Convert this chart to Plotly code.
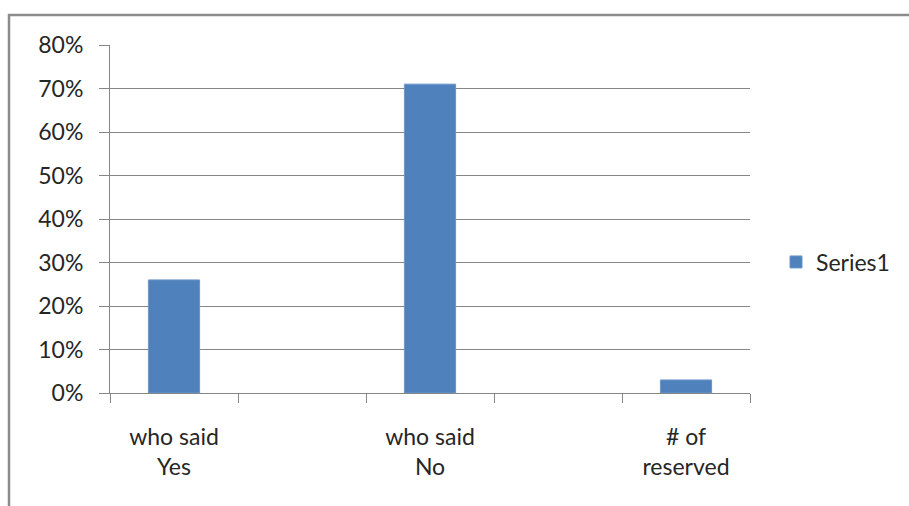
import plotly.graph_objects as go

categories = ["who said<br>Yes", "who said<br>No", "# of<br>reserved"]
positions = [0, 2, 4]
values = [0.26, 0.71, 0.03]
y_ticks = [0, 0.1, 0.2, 0.3, 0.4, 0.5, 0.6, 0.7, 0.8]
series_name = "Series1"

GRAY = "#868686"
FONT = dict(family="Lato, Calibri, sans-serif", size=23, color="#262626")

L, R, T, B = 110, 159, 45, 113
W, H = 909, 506
pw, ph = W - L - R, H - T - B

fig = go.Figure()
fig.add_trace(go.Bar(
    x=positions, y=values, name=series_name, width=0.4,
    marker=dict(color="#4f81bd", line=dict(color="#6b96ca", width=1)),
))

fig.update_layout(
    width=W, height=H,
    margin=dict(l=L, r=R, t=T, b=B),
    paper_bgcolor="white", plot_bgcolor="white",
    font=FONT,
    showlegend=True,
    legend=dict(x=(776 - L) / pw, y=(H - B - 262) / ph, xanchor="left",
                yanchor="middle", font=FONT, bgcolor="rgba(0,0,0,0)"),
    xaxis=dict(range=[-0.5, 4.5], tickmode="array", tickvals=positions,
               ticktext=categories, ticks="", ticklabelstandoff=23,
               minor=dict(tick0=-0.5, dtick=1, ticks="outside", ticklen=9,
                          tickcolor=GRAY, tickwidth=1, showgrid=False),
               showline=True, linecolor=GRAY, linewidth=1,
               showgrid=False, zeroline=False, tickfont=FONT),
    yaxis=dict(range=[0, 0.8], tickmode="array", tickvals=y_ticks,
               tickformat=".0%", ticks="outside", ticklen=10, tickcolor=GRAY,
               showline=True, linecolor=GRAY, linewidth=1,
               showgrid=True, gridcolor=GRAY, gridwidth=1, zeroline=False,
               ticklabelstandoff=11, tickfont=FONT),
    shapes=[dict(type="rect", xref="paper", yref="paper",
                 x0=(9 - L) / pw, x1=(W + 20 - L) / pw,
                 y0=(H - B - (H + 20)) / ph, y1=(H - B - 15) / ph,
                 line=dict(color="#8c8c8c", width=2.5), fillcolor="rgba(0,0,0,0)",
                 layer="below")],
)
fig.write_html("out.html", config={"displayModeBar": False},
               post_script="document.body.style.margin='0';document.body.style.overflow='hidden';")
